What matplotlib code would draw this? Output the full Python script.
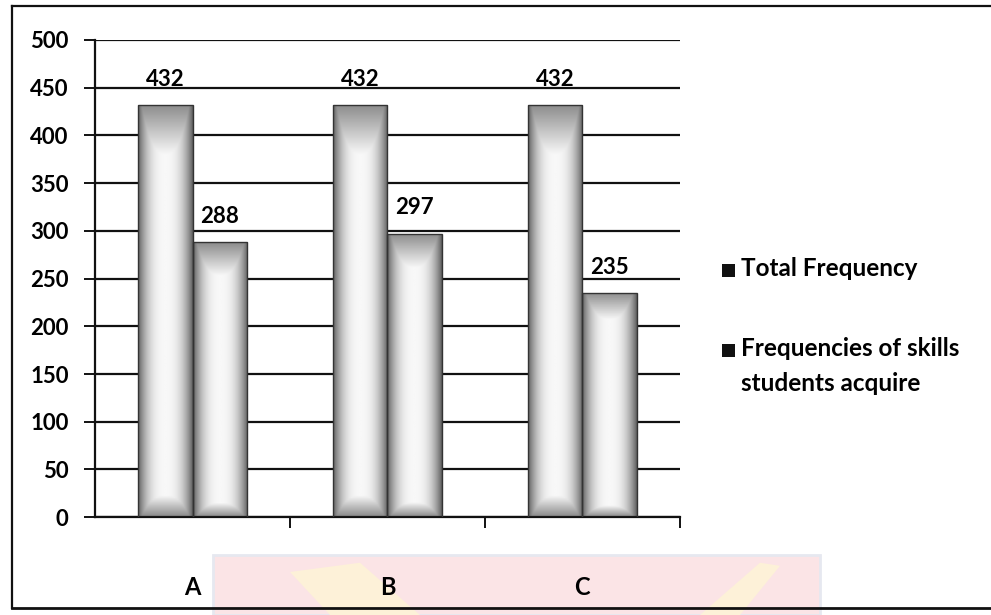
#!/usr/bin/env python
# -*- encoding: utf-8 -*-

'''bar chart of total frequency vs frequencies of skills students acquire'''

import numpy as np
import matplotlib.pyplot as plt
from matplotlib.patches import Rectangle, Polygon
from matplotlib.lines import Line2D

plt.rcParams['font.family'] = ['Lato', 'DejaVu Sans']

categories = ['A', 'B', 'C']
total_freq = [432, 432, 432]
skills_freq = [288, 297, 235]
series_names = ['Total Frequency', 'Frequencies of skills\nstudents acquire']
y_ticks = list(range(0, 501, 50))

W, H = 991, 615


def px(x, y):
    return x / W, 1 - y / H


def shade():
    # light centre fading to dark grey at the edges of each bar
    n = 200
    u = np.linspace(0, 1, n)
    xx, yy = np.meshgrid(u, u)
    dx = np.abs(xx - 0.5) * 2
    side = np.clip(dx ** 2.5, 0, 1)
    top = np.clip(1 - (1 - yy) / 0.05, 0, 1)
    bot = np.clip(1 - yy / 0.12, 0, 1)
    edge = np.maximum(side, np.maximum(top, bot) * 0.7)
    return 0.97 - 0.6 * edge


def gradient_bar(ax, x, width, height, img):
    rect = Rectangle((x - width / 2, 0), width, height, facecolor='none',
                     edgecolor='#333333', linewidth=1.0, zorder=3)
    ax.add_patch(rect)
    im = ax.imshow(img, extent=(x - width / 2, x + width / 2, 0, height),
                   origin='upper', cmap='gray', vmin=0, vmax=1,
                   aspect='auto', zorder=2, interpolation='bilinear')
    im.set_clip_path(rect)


def plot(pic_name):
    fig = plt.figure(figsize=(W / 100, H / 100), dpi=100)
    ax = fig.add_axes([0.096, 0.159, 0.590, 0.776])

    x = np.arange(len(categories))
    w = 0.28
    img = shade()
    for i, (t, s) in enumerate(zip(total_freq, skills_freq)):
        gradient_bar(ax, x[i] - w / 2, w, t, img)
        gradient_bar(ax, x[i] + w / 2, w, s, img)
        ax.annotate(str(t), (x[i] - w / 2, t), xytext=(0, 11),
                    textcoords='offset points', ha='center', va='bottom',
                    fontsize=16, fontweight='bold')
        ax.annotate(str(s), (x[i] + w / 2, s), xytext=(0, 11),
                    textcoords='offset points', ha='center', va='bottom',
                    fontsize=16, fontweight='bold')

    ax.set_xlim(-0.5, 2.5)
    ax.set_ylim(0, 500)
    ax.set_yticks(y_ticks)
    ax.set_yticklabels([str(v) for v in y_ticks], fontsize=16,
                       fontweight='bold')
    ax.yaxis.grid(True, color='#111111', linewidth=1.6)
    ax.set_axisbelow(True)

    ax.set_xticks(x)
    ax.set_xticklabels(categories, fontsize=17, fontweight='bold')
    ax.set_xticks([0.5, 1.5, 2.5], minor=True)
    ax.tick_params(axis='x', which='major', length=0, pad=42)
    ax.tick_params(axis='x', which='minor', length=8, width=1.4,
                   direction='out', color='#111111')
    ax.tick_params(axis='y', length=8, width=1.4, pad=11, color='#111111')

    for side in ('top', 'right'):
        ax.spines[side].set_visible(False)
    for side in ('left', 'bottom'):
        ax.spines[side].set_linewidth(1.6)
        ax.spines[side].set_color('#111111')

    # legend: square key with a label for each series
    key_y = [270, 350]
    for name, ky in zip(series_names, key_y):
        fig.patches.append(Rectangle(px(722, ky + 7), 13 / W, 13 / H,
                                     transform=fig.transFigure,
                                     facecolor='#111111', edgecolor='none'))
        fig.text(*px(741, ky - 13), name, ha='left', va='top',
                 fontsize=17.5, fontweight='bold', linespacing=1.65)

    # faint watermark band along the bottom
    fig.patches.append(Rectangle((213 / W, 0), (820 - 213) / W, 60 / H,
                                 transform=fig.transFigure,
                                 facecolor='#fbe4e6', edgecolor='#e6e8f0',
                                 linewidth=2, zorder=-1))
    fig.patches.append(Polygon([(290 / W, 0.07), (360 / W, 0.085),
                                (420 / W, 0.0), (330 / W, 0.0)],
                               transform=fig.transFigure,
                               facecolor='#fdf1d8', edgecolor='none',
                               zorder=-1))
    fig.patches.append(Polygon([(700 / W, 0.0), (760 / W, 0.085),
                                (780 / W, 0.08), (740 / W, 0.0)],
                               transform=fig.transFigure,
                               facecolor='#fdf1d8', edgecolor='none',
                               zorder=-1))

    # outer frame
    fig.lines.append(Line2D([12 / W, 12 / W], [1 - 608 / H, 1 - 6 / H],
                            transform=fig.transFigure, color='#111111', lw=1.6))
    fig.lines.append(Line2D([12 / W, 1.0], [1 - 6 / H, 1 - 6 / H],
                            transform=fig.transFigure, color='#111111', lw=1.6))
    fig.lines.append(Line2D([12 / W, 1.0], [1 - 608 / H, 1 - 608 / H],
                            transform=fig.transFigure, color='#111111', lw=2.0))

    fig.savefig(pic_name, dpi=100)


def main():
    plot("out.png")


if __name__ == "__main__":
    main()
